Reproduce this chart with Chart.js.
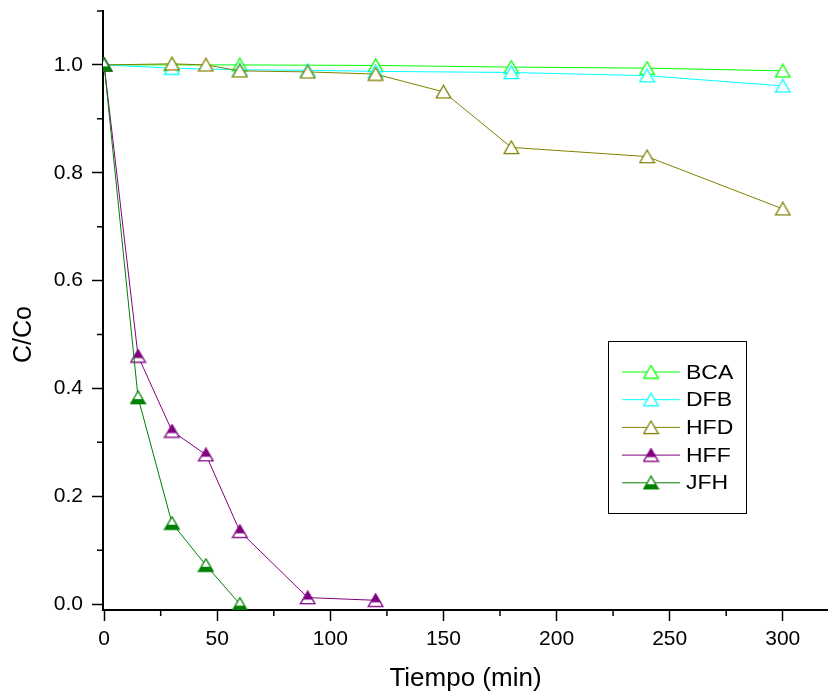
<!DOCTYPE html>
<html><head><meta charset="utf-8">
<script src="https://cdn.jsdelivr.net/npm/chart.js@4"></script>
<style>html,body{margin:0;padding:0;background:#fff}#wrap{width:828px;height:697px;position:relative}</style>
</head><body><div id="wrap"><canvas id="c"></canvas></div>
<script>
// ---- data ----
const seriesNames = ['BCA', 'DFB', 'HFD', 'HFF', 'JFH'];
const bcaX = [0, 30, 60, 120, 180, 240, 300];
const bcaY = [1.0, 1.0, 1.0, 0.999, 0.996, 0.994, 0.989];
const dfbX = [0, 30, 60, 90, 120, 180, 240, 300];
const dfbY = [1.0, 0.994, 0.991, 0.990, 0.988, 0.986, 0.980, 0.961];
const hfdX = [0, 30, 45, 60, 90, 120, 150, 180, 240, 300];
const hfdY = [1.0, 1.002, 1.0, 0.989, 0.987, 0.983, 0.950, 0.847, 0.830, 0.733];
const hffX = [0, 15, 30, 45, 60, 90, 120];
const hffY = [1.0, 0.460, 0.321, 0.277, 0.135, 0.012, 0.007];
const jfhX = [0, 15, 30, 45, 60];
const jfhY = [1.0, 0.383, 0.150, 0.072, 0.0];
const xTickValues = [0, 50, 100, 150, 200, 250, 300];
const xTickLabels = ['0', '50', '100', '150', '200', '250', '300'];
const yTickValues = [0, 0.2, 0.4, 0.6, 0.8, 1.0];
const yTickLabels = ['0.0', '0.2', '0.4', '0.6', '0.8', '1.0'];
const xMinorTicks = [25, 75, 125, 175, 225, 275];
const yMinorTicks = [0.1, 0.3, 0.5, 0.7, 0.9, 1.1];
const xTitle = 'Tiempo (min)';
const yTitle = 'C/Co';

// ---- marker images ----
function makeTriangle(color, mode) {
  const cv = document.createElement('canvas');
  cv.width = 17; cv.height = 15;
  const c = cv.getContext('2d');
  const path = () => { c.beginPath(); c.moveTo(8.5, 1); c.lineTo(1.2, 13.6); c.lineTo(15.8, 13.6); c.closePath(); };
  path(); c.fillStyle = '#fff'; c.fill();
  if (mode === 'top' || mode === 'bottom') {
    c.save();
    c.beginPath();
    if (mode === 'top') c.rect(0, 0, 17, 9.6); else c.rect(0, 9.0, 17, 6);
    c.clip();
    path(); c.fillStyle = color; c.fill();
    c.restore();
  }
  path(); c.strokeStyle = color; c.lineWidth = 1.3; c.stroke();
  return cv;
}
const colors = ['#00ff00', '#00ffff', '#808000', '#800080', '#008000'];
const modes = ['open', 'open', 'open', 'top', 'bottom'];
const xs = [bcaX, dfbX, hfdX, hffX, jfhX];
const ys = [bcaY, dfbY, hfdY, hffY, jfhY];

const datasets = seriesNames.map((name, i) => ({
  label: name,
  data: xs[i].map((x, j) => ({ x: x, y: ys[i][j] })),
  borderColor: colors[i],
  backgroundColor: colors[i],
  borderWidth: 1,
  tension: 0,
  pointStyle: makeTriangle(colors[i], modes[i]),
  pointRadius: 7,
  order: seriesNames.length - i
}));

// ---- plugins ----
const minorTicksPlugin = {
  id: 'minorTicks',
  afterDraw(chart) {
    const ctx = chart.ctx, xS = chart.scales.x, yS = chart.scales.y;
    ctx.save();
    ctx.strokeStyle = '#000'; ctx.lineWidth = 1.5;
    ctx.beginPath();
    xMinorTicks.forEach(v => { const px = xS.getPixelForValue(v); ctx.moveTo(px, yS.bottom); ctx.lineTo(px, yS.bottom + 6); });
    yMinorTicks.forEach(v => { const py = yS.getPixelForValue(v); ctx.moveTo(xS.left, py); ctx.lineTo(xS.left - 6, py); });
    ctx.stroke();
    ctx.restore();
  }
};
const yTitlePlugin = {
  id: 'yTitle',
  afterDraw(chart) {
    const ctx = chart.ctx, yS = chart.scales.y;
    const cy = (yS.getPixelForValue(0) + yS.getPixelForValue(1)) / 2;
    ctx.save();
    ctx.translate(24, cy);
    ctx.rotate(-Math.PI / 2);
    ctx.fillStyle = '#000';
    ctx.font = '25px "Liberation Sans", Arial, sans-serif';
    ctx.textAlign = 'center'; ctx.textBaseline = 'middle';
    ctx.fillText(yTitle, 0, 0);
    ctx.restore();
  }
};
const legendPlugin = {
  id: 'customLegend',
  afterDraw(chart) {
    const ctx = chart.ctx;
    const bx = 608.5, by = 341.5, bw = 138, bh = 172;
    ctx.save();
    ctx.fillStyle = '#fff';
    ctx.fillRect(bx, by, bw, bh);
    ctx.strokeStyle = '#000'; ctx.lineWidth = 1;
    ctx.strokeRect(bx, by, bw, bh);
    chart.data.datasets.forEach((ds, i) => {
      const ry = 372 + i * 27.7;
      ctx.strokeStyle = ds.borderColor; ctx.lineWidth = 1;
      ctx.beginPath(); ctx.moveTo(622, ry); ctx.lineTo(680, ry); ctx.stroke();
      const img = ds.pointStyle;
      ctx.drawImage(img, 651 - img.width / 2, ry - img.height / 2);
      ctx.save();
      ctx.translate(686, ry + 1);
      ctx.scale(1.15, 1);
      ctx.fillStyle = '#000';
      ctx.font = '20px "Liberation Sans", Arial, sans-serif';
      ctx.textAlign = 'left'; ctx.textBaseline = 'middle';
      ctx.fillText(ds.label, 0, 0);
      ctx.restore();
    });
    ctx.restore();
  }
};

new Chart(document.getElementById('c'), {
  type: 'line',
  data: { datasets: datasets },
  options: {
    responsive: true,
    maintainAspectRatio: false,
    animation: false,
    layout: { autoPadding: false, padding: { top: 11, right: 0, left: 0, bottom: 0 } },
    plugins: { legend: { display: false }, tooltip: { enabled: false } },
    scales: {
      x: {
        type: 'linear',
        min: -0.5, max: 320,
        afterFit(s) { s.height = 87; s.paddingLeft = 0; s.paddingRight = 0; },
        afterBuildTicks(s) { s.ticks = xTickValues.map(v => ({ value: v })); },
        ticks: {
          callback: (v) => { const k = xTickValues.indexOf(v); return k >= 0 ? xTickLabels[k] : ''; },
          color: '#000', padding: 6, maxRotation: 0,
          font: { family: '"Liberation Sans", Arial, sans-serif', size: 21 }
        },
        grid: { drawOnChartArea: false, drawTicks: true, tickLength: 11, tickColor: '#000', tickWidth: 1.5 },
        border: { display: true, color: '#000', width: 2 },
        title: { display: true, text: xTitle, color: '#000', padding: { top: 0, bottom: 3 },
          font: { family: '"Liberation Sans", Arial, sans-serif', size: 26 } }
      },
      y: {
        type: 'linear',
        min: -0.011, max: 1.1,
        afterFit(s) { s.width = 103; s.paddingTop = 0; s.paddingBottom = 0; },
        afterBuildTicks(s) { s.ticks = yTickValues.map(v => ({ value: v })); },
        ticks: {
          callback: (v) => { const k = yTickValues.findIndex(t => Math.abs(t - v) < 1e-9); return k >= 0 ? yTickLabels[k] : ''; },
          color: '#000', padding: 9,
          font: { family: '"Liberation Sans", Arial, sans-serif', size: 21 }
        },
        grid: { drawOnChartArea: false, drawTicks: true, tickLength: 11, tickColor: '#000', tickWidth: 1.5 },
        border: { display: true, color: '#000', width: 2 }
      }
    }
  },
  plugins: [minorTicksPlugin, yTitlePlugin, legendPlugin]
});
</script>
</body></html>
